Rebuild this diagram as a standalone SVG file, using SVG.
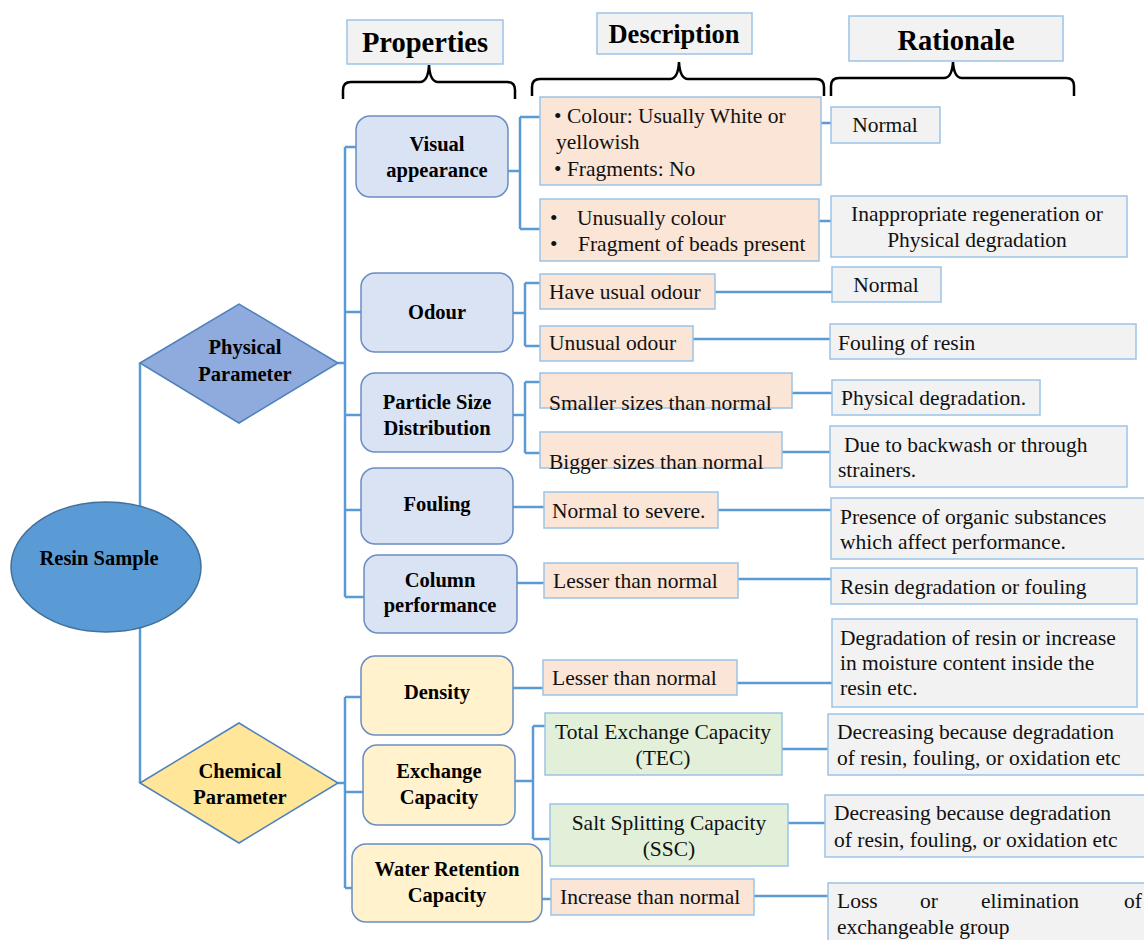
<svg xmlns="http://www.w3.org/2000/svg" width="1144" height="940" viewBox="0 0 1144 940">
<style>
.hdr{fill:#F2F2F2;stroke:#9DC3E6;stroke-width:1.5}
.ht{font-family:"Liberation Serif",serif;font-weight:bold;fill:#000;text-anchor:middle}
.brace{fill:none;stroke:#000;stroke-width:2.5}
.con{fill:none;stroke:#5B9BD5;stroke-width:2.5}
.pp{fill:#DAE3F3;stroke:#6A8DC4;stroke-width:1.5}
.cp{fill:#FFF2CC;stroke:#6A8DC4;stroke-width:1.5}
.pt{font-family:"Liberation Serif",serif;font-weight:bold;font-size:20.5px;fill:#000;text-anchor:middle}
.d{fill:#FBE5D6;stroke:#9DC3E6;stroke-width:1.5}
.g{fill:#E2F0D9;stroke:#9DC3E6;stroke-width:1.5}
.r{fill:#F2F2F2;stroke:#9DC3E6;stroke-width:1.5}
.t{font-family:"Liberation Serif",serif;font-size:21.5px;fill:#111}
.tc{font-family:"Liberation Serif",serif;font-size:21.5px;fill:#111;text-anchor:middle}
</style>

<g id="headers">
  <g id="hdr-properties"><rect class="hdr" x="347" y="20" width="156" height="44"/><text class="ht" x="425" y="52" font-size="28.5">Properties</text></g>
  <g id="hdr-description"><rect class="hdr" x="597" y="13" width="155" height="41"/><text class="ht" x="674" y="43" font-size="26.5">Description</text></g>
  <g id="hdr-rationale"><rect class="hdr" x="849" y="16" width="214" height="45"/><text class="ht" x="956" y="50" font-size="28.5">Rationale</text></g>
  <path class="brace" d="M343,99 V90 Q343,82 351,82 H420 Q428,82 429,65 Q430,82 438,82 H507 Q515,82 515,90 V99"/>
  <path class="brace" d="M532,96 V87 Q532,79 540,79 H670 Q678,79 679,62 Q680,79 688,79 H816 Q824,79 824,87 V96"/>
  <path class="brace" d="M831,96 V86 Q831,78 839,78 H944 Q952,78 953,62 Q954,78 962,78 H1066 Q1074,78 1074,86 V96"/>
</g>

<g id="connectors">
  <path class="con" d="M140,363 V783"/>
  <path class="con" d="M338,363 H345 M345,147 V597 M345,147 H356 M345,312 H361 M345,415 H361 M345,510 H361 M345,597 H364"/>
  <path class="con" d="M338,783 H345 M345,697 V888 M345,697 H361 M345,792 H363 M345,888 H352"/>
  <path class="con" d="M508,171 H520 M520,117 V229 M520,117 H540 M520,229 H540"/>
  <path class="con" d="M513,313 H525 M525,283 V346 M525,283 H540 M525,346 H540"/>
  <path class="con" d="M513,415 H525 M525,382 V453 M525,382 H540 M525,453 H540"/>
  <path class="con" d="M512,507 H544"/>
  <path class="con" d="M517,583 H544"/>
  <path class="con" d="M513,688 H543"/>
  <path class="con" d="M515,781 H533 M533,726 V839 M533,726 H545 M533,839 H550"/>
  <path class="con" d="M542,899 H551"/>
  <path class="con" d="M821,123 H831 M819,221 H831 M715,292 H832 M693,339 H830 M792,393 H832 M782,452 H830 M718,510 H831 M738,579 H831 M737,683 H832 M782,749 H828 M788,823 H825 M754,896 H828"/>
</g>

<g id="resin-sample">
  <ellipse cx="106" cy="567" rx="95" ry="65" fill="#5B9BD5" stroke="#41719C" stroke-width="1.5"/>
  <text class="pt" x="99" y="565" font-size="21">Resin Sample</text>
</g>
<g id="physical-parameter">
  <polygon points="140,363 239,304 338,363 239,423" fill="#8FAADC" stroke="#4F81BD" stroke-width="1.5"/>
  <text class="pt" x="245" y="354">Physical</text><text class="pt" x="245" y="381">Parameter</text>
</g>
<g id="chemical-parameter">
  <polygon points="140,783 239,723 338,783 239,843" fill="#FFE699" stroke="#4F81BD" stroke-width="1.5"/>
  <text class="pt" x="240" y="778">Chemical</text><text class="pt" x="240" y="804">Parameter</text>
</g>

<g id="visual-appearance"><rect class="pp" x="356" y="116" width="152" height="81" rx="14"/><text class="pt" x="437" y="151">Visual</text><text class="pt" x="437" y="177">appearance</text></g>
<g id="odour"><rect class="pp" x="361" y="273" width="152" height="79" rx="14"/><text class="pt" x="437" y="319">Odour</text></g>
<g id="particle-size"><rect class="pp" x="361" y="373" width="152" height="79" rx="14"/><text class="pt" x="437" y="409">Particle Size</text><text class="pt" x="437" y="435">Distribution</text></g>
<g id="fouling"><rect class="pp" x="361" y="468" width="152" height="76" rx="14"/><text class="pt" x="437" y="511">Fouling</text></g>
<g id="column-performance"><rect class="pp" x="364" y="555" width="153" height="78" rx="14"/><text class="pt" x="440" y="587">Column</text><text class="pt" x="440" y="612">performance</text></g>
<g id="density"><rect class="cp" x="361" y="656" width="152" height="79" rx="14"/><text class="pt" x="437" y="699">Density</text></g>
<g id="exchange-capacity"><rect class="cp" x="363" y="745" width="152" height="80" rx="14"/><text class="pt" x="439" y="778">Exchange</text><text class="pt" x="439" y="804">Capacity</text></g>
<g id="water-retention"><rect class="cp" x="352" y="844" width="190" height="78" rx="14"/><text class="pt" x="447" y="876">Water Retention</text><text class="pt" x="447" y="902">Capacity</text></g>

<g id="desc-visual-1"><rect class="d" x="540" y="97" width="281" height="88"/><text class="t" x="554" y="123">• Colour: Usually White or</text><text class="t" x="556" y="149">yellowish</text><text class="t" x="554" y="176">• Fragments: No</text></g>
<g id="desc-visual-2"><rect class="d" x="540" y="199" width="279" height="62"/><text class="t" x="550" y="225">•</text><text class="t" x="577" y="225">Unusually colour</text><text class="t" x="550" y="251">•</text><text class="t" x="578" y="251">Fragment of beads present</text></g>
<g id="desc-odour-1"><rect class="d" x="540" y="274" width="175" height="35"/><text class="t" x="549" y="299">Have usual odour</text></g>
<g id="desc-odour-2"><rect class="d" x="540" y="326" width="153" height="35"/><text class="t" x="549" y="350">Unusual odour</text></g>
<g id="desc-ps-1"><rect class="d" x="540" y="373" width="252" height="35"/><text class="t" x="549" y="410">Smaller sizes than normal</text></g>
<g id="desc-ps-2"><rect class="d" x="540" y="432" width="242" height="36"/><text class="t" x="549" y="469">Bigger sizes than normal</text></g>
<g id="desc-fouling"><rect class="d" x="544" y="492" width="174" height="36"/><text class="t" x="552" y="518">Normal to severe.</text></g>
<g id="desc-column"><rect class="d" x="544" y="563" width="194" height="35"/><text class="t" x="553" y="588">Lesser than normal</text></g>
<g id="desc-density"><rect class="d" x="543" y="660" width="194" height="35"/><text class="t" x="552" y="685">Lesser than normal</text></g>
<g id="desc-tec"><rect class="g" x="545" y="713" width="237" height="62"/><text class="tc" x="663" y="739">Total Exchange Capacity</text><text class="tc" x="663" y="765">(TEC)</text></g>
<g id="desc-ssc"><rect class="g" x="550" y="804" width="238" height="62"/><text class="tc" x="669" y="830">Salt Splitting Capacity</text><text class="tc" x="669" y="856">(SSC)</text></g>
<g id="desc-water"><rect class="d" x="551" y="879" width="203" height="36"/><text class="t" x="560" y="904">Increase than normal</text></g>

<g id="rat-normal-1"><rect class="r" x="831" y="107" width="109" height="36"/><text class="tc" x="885" y="132">Normal</text></g>
<g id="rat-inappropriate"><rect class="r" x="831" y="196" width="296" height="61"/><text class="tc" x="977" y="221">Inappropriate regeneration or</text><text class="tc" x="977" y="247">Physical degradation</text></g>
<g id="rat-normal-2"><rect class="r" x="832" y="267" width="109" height="35"/><text class="tc" x="886" y="292">Normal</text></g>
<g id="rat-fouling-resin"><rect class="r" x="830" y="324" width="306" height="35"/><text class="t" x="838" y="350">Fouling of resin</text></g>
<g id="rat-physical-deg"><rect class="r" x="832" y="380" width="208" height="35"/><text class="t" x="841" y="405">Physical degradation.</text></g>
<g id="rat-backwash"><rect class="r" x="830" y="426" width="297" height="61"/><text class="t" x="844" y="452">Due to backwash or through</text><text class="t" x="838" y="477">strainers.</text></g>
<g id="rat-presence"><rect class="r" x="831" y="498" width="318" height="61"/><text class="t" x="840" y="524">Presence of organic substances</text><text class="t" x="840" y="549">which affect performance.</text></g>
<g id="rat-resin-deg"><rect class="r" x="831" y="568" width="306" height="36"/><text class="t" x="840" y="594">Resin degradation or fouling</text></g>
<g id="rat-degradation"><rect class="r" x="832" y="619" width="305" height="88"/><text class="t" x="840" y="645">Degradation of resin or increase</text><text class="t" x="840" y="670">in moisture content inside the</text><text class="t" x="840" y="695">resin etc.</text></g>
<g id="rat-decreasing-1"><rect class="r" x="828" y="714" width="321" height="61"/><text class="t" x="837" y="739">Decreasing because degradation</text><text class="t" x="837" y="765">of resin, fouling, or oxidation etc</text></g>
<g id="rat-decreasing-2"><rect class="r" x="825" y="795" width="324" height="62"/><text class="t" x="834" y="820">Decreasing because degradation</text><text class="t" x="834" y="847">of resin, fouling, or oxidation etc</text></g>
<g id="rat-loss"><rect class="r" x="828" y="883" width="321" height="65"/><text class="t" x="837" y="908">Loss</text><text class="t" x="920" y="908">or</text><text class="t" x="981" y="908">elimination</text><text class="t" x="1124" y="908">of</text><text class="t" x="837" y="934">exchangeable group</text></g>
</svg>
